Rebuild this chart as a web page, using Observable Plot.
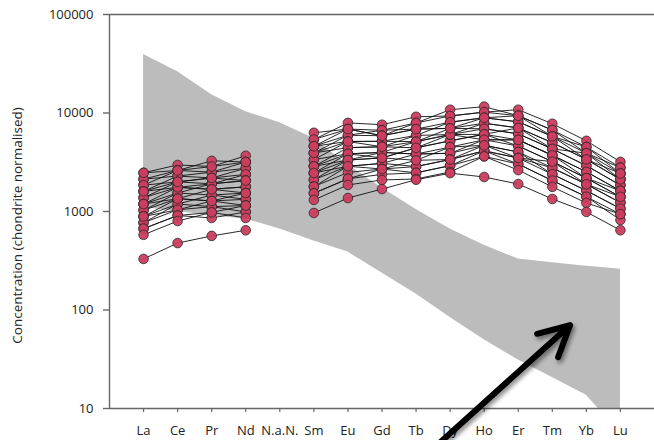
<!DOCTYPE html>
<html><head><meta charset="utf-8">
<script src="https://cdn.jsdelivr.net/npm/d3@7"></script>
<script src="https://cdn.jsdelivr.net/npm/@observablehq/plot@0.6"></script>
<style>
html,body{margin:0;padding:0;background:#fff;}
</style></head><body><div id="chart"></div>
<script>
// Categories (x axis) — N.a.N. is an empty slot
const elements = ["La","Ce","Pr","Nd","N.a.N.","Sm","Eu","Gd","Tb","Dy","Ho","Er","Tm","Yb","Lu"];
const yTicks = [10, 100, 1000, 10000, 100000];
const yLabel = "Concentration (chondrite normalised)";

// Grey reference field (positions in element index units)
const bandX     = [0, 1, 2, 3, 4, 5, 6, 7, 8, 9, 10, 11, 12, 13, 13.35, 14];
const bandUpper = [39200, 26300, 15300, 10300, 7950, 5500, 2970, 1730, 1050, 664, 455, 329, 302, 278, 271, 259];
const bandLower = [1100, 1000, 900, 839, 664, 501, 387, 237, 145, 84, 50, 31, 20.7, 13.6, 10, 10];

// Sample patterns (one row per sample, one value per element; null = not analysed)
const samples = [
  [2470,2970,2860,3680,null,5380,7940,7600,9160,9330,10200,10800,7780,5220,3190],
  [2130,2610,3270,3180,null,6300,6870,6680,7930,10800,11600,9380,6710,3910,2790],
  [1850,2610,2510,2750,null,4600,5940,6680,6860,8070,8950,8130,5790,4520,2430],
  [2130,2290,2510,3180,null,5380,6870,5880,7930,9330,10200,9380,6710,4520,2790],
  [1600,2290,2190,2380,null,3930,5940,5880,6860,6980,7870,7060,5000,3380,2120],
  [1850,2000,2190,2750,null,4600,5140,5160,5920,8070,8950,8130,5790,3910,2430],
  [1600,1760,1910,2380,null,3360,5140,5160,5120,6980,6920,6140,4320,2920,1850],
  [1380,2000,1910,2060,null,3930,4450,4540,5920,6040,7870,7060,5000,3380,2120],
  [1380,1760,1680,1780,null,2870,4450,4540,4430,5220,6080,5330,3720,2530,1620],
  [1190,1540,1910,2060,null,3360,3850,3980,5120,6040,6920,6140,4320,2920,1850],
  [1190,1350,1680,1780,null,2870,3850,3500,4430,5220,6080,4620,3210,2180,1410],
  [1030,1540,1470,1540,null,2460,3330,3980,3830,4510,5350,5330,3720,2530,1620],
  [1030,1350,1280,1540,null,2460,3850,3980,3830,3900,5350,4620,3210,2180,1410],
  [890,1190,1470,1330,null,2100,3330,3500,3310,4510,4700,4020,2770,1890,1230],
  [890,1040,1280,1330,null,2100,2880,3080,3830,3900,4700,4020,2390,1630,1070],
  [770,1190,1120,1150,null,1790,2880,3080,2860,3370,4130,3490,2770,1890,1230],
  [770,1040,1120,990,null,1790,2490,2700,2860,3370,4130,3030,2060,1410,940],
  [670,910,980,1150,null,1530,2150,2700,2470,2920,4130,3490,2390,1630,1070],
  [670,910,860,990,null,1530,2150,2380,2470,2920,3630,3030,2060,1410,820],
  [580,800,980,860,null,1310,1860,2090,2140,2520,3630,2630,1780,1220,940],
  [1190,1760,1680,1540,null,3930,5140,4540,5120,6040,6080,7060,4320,3910,2120],
  [1600,2000,2190,2060,null,2870,3330,3500,4430,6040,5350,5330,3720,2180,1620],
  [890,1350,1280,1150,null,2460,2880,2700,3310,3370,4700,3490,3210,1890,1410],
  [2470,2610,2860,3180,null,4600,6870,5880,6860,6980,8950,9380,5790,3380,2430],
  [330,478,565,645,null,966,1370,1690,2100,2450,2240,1900,1340,990,645]
];

// Annotation arrow (element-index / concentration units)
const arrowFrom = {x: 8.5, y: 3.9};
const arrowTo   = {x: 12.52, y: 70};

// ---- build tables ----
const band = bandX.map((x, i) => ({x, lo: bandLower[i], hi: bandUpper[i]}));
const points = samples.flatMap((row, s) => row.map((v, i) => ({sample: s, x: i, v})));
const dotsData = points.filter(d => d.v != null);

const font = "'Open Sans', 'DejaVu Sans', sans-serif";

const chart = Plot.plot({
  width: 654,
  height: 440,
  marginLeft: 109,
  marginRight: 0,
  marginTop: 14,
  marginBottom: 32,
  style: {fontFamily: font, fontSize: "13px", color: "#222", background: "#fff", overflow: "visible"},
  x: {type: "linear", domain: [-1, 15]},
  y: {type: "log", domain: [10, 100000]},
  marks: [
    Plot.areaY(band, {x: "x", y1: "lo", y2: "hi", fill: "#bcbcbc", curve: "linear"}),
    Plot.ruleY([100000], {stroke: "#666", strokeWidth: 1.4}),
    Plot.ruleY([10], {stroke: "#666", strokeWidth: 1.4}),
    Plot.ruleX([-1], {stroke: "#666", strokeWidth: 1.4}),
    Plot.axisY({ticks: yTicks, tickFormat: d => String(d), tickSize: 6, tickPadding: 10, stroke: "#666", strokeWidth: 1.4, label: null, fontSize: 13}),
    Plot.axisX({ticks: d3.range(elements.length), tickFormat: i => elements[i], tickSize: 4, tickPadding: 13, stroke: "#666", strokeWidth: 1.2, label: null, fontSize: 13}),
    Plot.text([yLabel], {frameAnchor: "left", textAnchor: "middle", rotate: -90, dx: -97, dy: 14, lineAnchor: "top", fontSize: 13.5, fill: "#222"}),
    Plot.line(points, {x: "x", y: "v", z: "sample", stroke: "#111", strokeWidth: 0.9}),
    Plot.dot(dotsData, {x: "x", y: "v", r: 4.8, fill: "#cc3d5e", fillOpacity: 0.95, stroke: "#2a2a2a", strokeWidth: 0.8}),
    Plot.arrow([0], {x1: () => arrowFrom.x, y1: () => arrowFrom.y, x2: () => arrowTo.x, y2: () => arrowTo.y,
      stroke: "#000", strokeWidth: 6, headLength: 8.5, headAngle: 55, ariaLabel: "annotation-arrow"})
  ]
});
document.getElementById("chart").appendChild(chart);
d3.select(chart).selectAll("g[aria-label='annotation-arrow'], g[aria-label='arrow']")
  .style("filter", "drop-shadow(2px 3px 2px rgba(0,0,0,0.45))");
</script>
</body></html>
